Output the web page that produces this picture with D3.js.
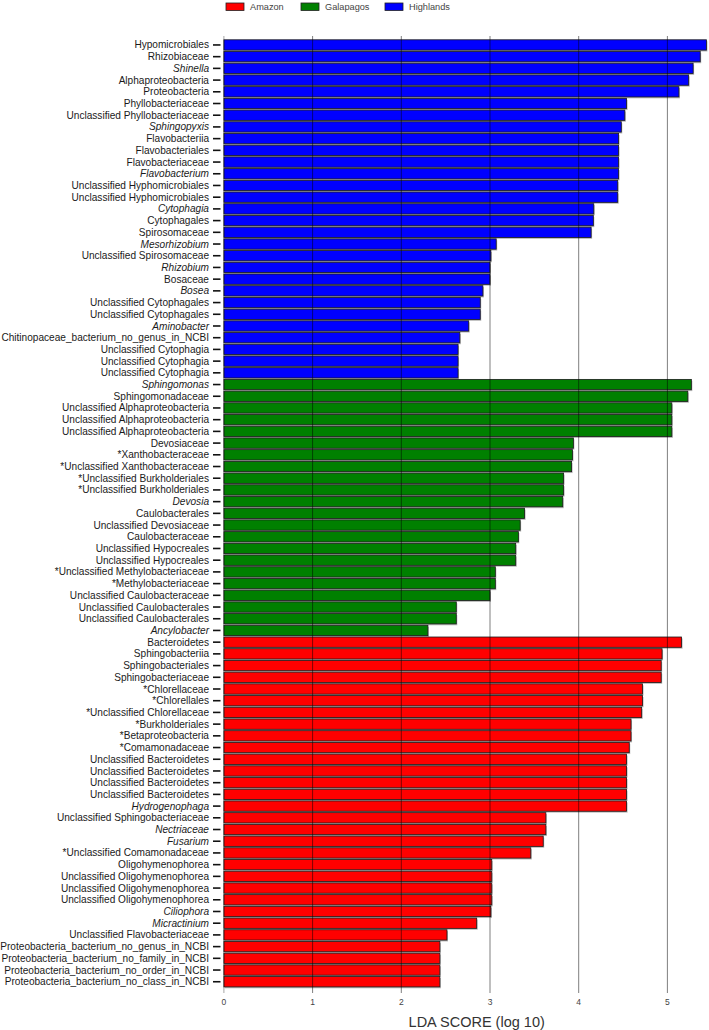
<!DOCTYPE html>
<html>
<head>
<meta charset="utf-8">
<script src="https://cdn.jsdelivr.net/npm/d3@7"></script>
<style>
  html, body { margin: 0; padding: 0; background: #fff; }
  svg { display: block; font-family: "Liberation Sans", Arial, sans-serif; }
</style>
</head>
<body>
<svg id="chart" width="709" height="1030"></svg>
<script>
// ---- data ----
const groups = ["Amazon", "Galapagos", "Highlands"];
const groupColors = ["#ff0000", "#008000", "#0000ff"];

const highlandsTaxa = [
  "Hypomicrobiales", "Rhizobiaceae", "Shinella", "Alphaproteobacteria", "Proteobacteria",
  "Phyllobacteriaceae", "Unclassified Phyllobacteriaceae", "Sphingopyxis", "Flavobacteriia",
  "Flavobacteriales", "Flavobacteriaceae", "Flavobacterium", "Unclassified Hyphomicrobiales",
  "Unclassified Hyphomicrobiales", "Cytophagia", "Cytophagales", "Spirosomaceae", "Mesorhizobium",
  "Unclassified Spirosomaceae", "Rhizobium", "Bosaceae", "Bosea", "Unclassified Cytophagales",
  "Unclassified Cytophagales", "Aminobacter", "Chitinopaceae_bacterium_no_genus_in_NCBI",
  "Unclassified Cytophagia", "Unclassified Cytophagia", "Unclassified Cytophagia"
];
const highlandsScores = [
  5.44, 5.37, 5.29, 5.24, 5.13,
  4.54, 4.52, 4.48, 4.45,
  4.45, 4.45, 4.45, 4.44,
  4.44, 4.17, 4.165, 4.14, 3.07,
  3.01, 3.00, 3.00, 2.92, 2.89,
  2.89, 2.76, 2.66,
  2.64, 2.64, 2.64
];

const galapagosTaxa = [
  "Sphingomonas", "Sphingomonadaceae", "Unclassified Alphaproteobacteria",
  "Unclassified Alphaproteobacteria", "Unclassified Alphaproteobacteria", "Devosiaceae",
  "*Xanthobacteraceae", "*Unclassified Xanthobacteraceae", "*Unclassified Burkholderiales",
  "*Unclassified Burkholderiales", "Devosia", "Caulobacterales", "Unclassified Devosiaceae",
  "Caulobacteraceae", "Unclassified Hypocreales", "Unclassified Hypocreales",
  "*Unclassified Methylobacteriaceae", "*Methylobacteriaceae", "Unclassified Caulobacteraceae",
  "Unclassified Caulobacterales", "Unclassified Caulobacterales", "Ancylobacter"
];
const galapagosScores = [
  5.27, 5.23, 5.05,
  5.05, 5.05, 3.94,
  3.93, 3.92, 3.83,
  3.83, 3.82, 3.39, 3.34,
  3.32, 3.29, 3.29,
  3.06, 3.06, 3.00,
  2.62, 2.62, 2.30
];

const amazonTaxa = [
  "Bacteroidetes", "Sphingobacteriia", "Sphingobacteriales", "Sphingobacteriaceae",
  "*Chlorellaceae", "*Chlorellales", "*Unclassified Chlorellaceae", "*Burkholderiales",
  "*Betaproteobacteria", "*Comamonadaceae", "Unclassified Bacteroidetes",
  "Unclassified Bacteroidetes", "Unclassified Bacteroidetes", "Unclassified Bacteroidetes",
  "Hydrogenophaga", "Unclassified Sphingobacteriaceae", "Nectriaceae", "Fusarium",
  "*Unclassified Comamonadaceae", "Oligohymenophorea", "Unclassified Oligohymenophorea",
  "Unclassified Oligohymenophorea", "Unclassified Oligohymenophorea", "Ciliophora",
  "Micractinium", "Unclassified Flavobacteriaceae",
  "Proteobacteria_bacterium_no_genus_in_NCBI", "Proteobacteria_bacterium_no_family_in_NCBI",
  "Proteobacteria_bacterium_no_order_in_NCBI", "Proteobacteria_bacterium_no_class_in_NCBI"
];
const amazonScores = [
  5.16, 4.94, 4.93, 4.93,
  4.72, 4.72, 4.71, 4.59,
  4.59, 4.57, 4.54,
  4.54, 4.54, 4.54,
  4.54, 3.63, 3.63, 3.60,
  3.46, 3.02, 3.02,
  3.02, 3.02, 3.01,
  2.85, 2.515,
  2.435, 2.435,
  2.435, 2.435
];

const italicTaxa = [
  "Shinella", "Sphingopyxis", "Flavobacterium", "Cytophagia", "Mesorhizobium", "Rhizobium",
  "Bosea", "Aminobacter", "Sphingomonas", "Devosia", "Ancylobacter", "Hydrogenophaga",
  "Nectriaceae", "Fusarium", "Ciliophora", "Micractinium"
];

const xTicks = [0, 1, 2, 3, 4, 5];
const xLabel = "LDA SCORE (log 10)";

// ---- build rows ----
const rows = [];
highlandsTaxa.forEach((t, i) => rows.push({ taxon: t, score: highlandsScores[i], group: "Highlands" }));
galapagosTaxa.forEach((t, i) => rows.push({ taxon: t, score: galapagosScores[i], group: "Galapagos" }));
amazonTaxa.forEach((t, i) => rows.push({ taxon: t, score: amazonScores[i], group: "Amazon" }));
rows.forEach((r, i) => r.idx = i);

const svg = d3.select("#chart");

const x = d3.scaleLinear().domain([0, 5]).range([223.9, 667.4]);
const y = d3.scaleBand().domain(rows.map(r => r.idx)).range([39.1, 987.6]).paddingInner(0.12).paddingOuter(0.06);
const color = d3.scaleOrdinal().domain(groups).range(groupColors);

const plotTop = 36, plotBottom = 993;

// bar shadows
svg.append("g").selectAll("rect").data(rows).join("rect")
  .attr("x", x(0) + 1)
  .attr("y", d => y(d.idx) + 1.4)
  .attr("width", d => x(d.score) - x(0))
  .attr("height", y.bandwidth())
  .attr("fill", "#b8b8b8");

// bars
svg.append("g").selectAll("rect").data(rows).join("rect")
  .attr("x", x(0))
  .attr("y", d => y(d.idx))
  .attr("width", d => x(d.score) - x(0))
  .attr("height", y.bandwidth())
  .attr("fill", d => color(d.group))
  .attr("stroke", "#1a1a1a")
  .attr("stroke-width", 0.8);

// gridlines (over the bars)
svg.append("g").selectAll("line").data(xTicks).join("line")
  .attr("x1", d => x(d)).attr("x2", d => x(d))
  .attr("y1", plotTop).attr("y2", plotBottom)
  .attr("stroke", "#000").attr("stroke-opacity", d => d === 0 ? 0.35 : 0.5).attr("stroke-width", 1);

// x tick labels
svg.append("g").selectAll("text").data(xTicks).join("text")
  .attr("x", d => x(d)).attr("y", 1005)
  .attr("text-anchor", "middle")
  .attr("font-size", 8.5)
  .attr("fill", "#444")
  .text(d => d);

// x axis label
svg.append("text")
  .attr("x", x(2.85)).attr("y", 1027)
  .attr("text-anchor", "middle")
  .attr("font-size", 14.5)
  .attr("fill", "#333")
  .text(xLabel);

// y labels and tick dashes
const yLab = svg.append("g");
yLab.selectAll("line").data(rows).join("line")
  .attr("x1", 213).attr("x2", 220.5)
  .attr("y1", d => y(d.idx) + y.bandwidth() / 2)
  .attr("y2", d => y(d.idx) + y.bandwidth() / 2)
  .attr("stroke", "#111").attr("stroke-width", 1.6);
yLab.selectAll("text").data(rows).join("text")
  .attr("x", 209)
  .attr("y", d => y(d.idx) + y.bandwidth() / 2)
  .attr("dy", "0.35em")
  .attr("text-anchor", "end")
  .attr("font-size", 10.1)
  .attr("fill", "#1a1a1a")
  .attr("font-style", d => italicTaxa.includes(d.taxon) ? "italic" : "normal")
  .text(d => d.taxon);

// legend
const legendX = [226, 301, 385];
const leg = svg.append("g").selectAll("g").data(groups).join("g")
  .attr("transform", (d, i) => `translate(${legendX[i]},3)`);
leg.append("rect").attr("width", 18).attr("height", 7.5)
  .attr("fill", d => color(d)).attr("stroke", "#222").attr("stroke-width", 0.8);
leg.append("text").attr("x", 24).attr("y", 4).attr("dy", "0.35em")
  .attr("font-size", 9.2).attr("fill", "#444").text(d => d);
</script>
</body>
</html>
